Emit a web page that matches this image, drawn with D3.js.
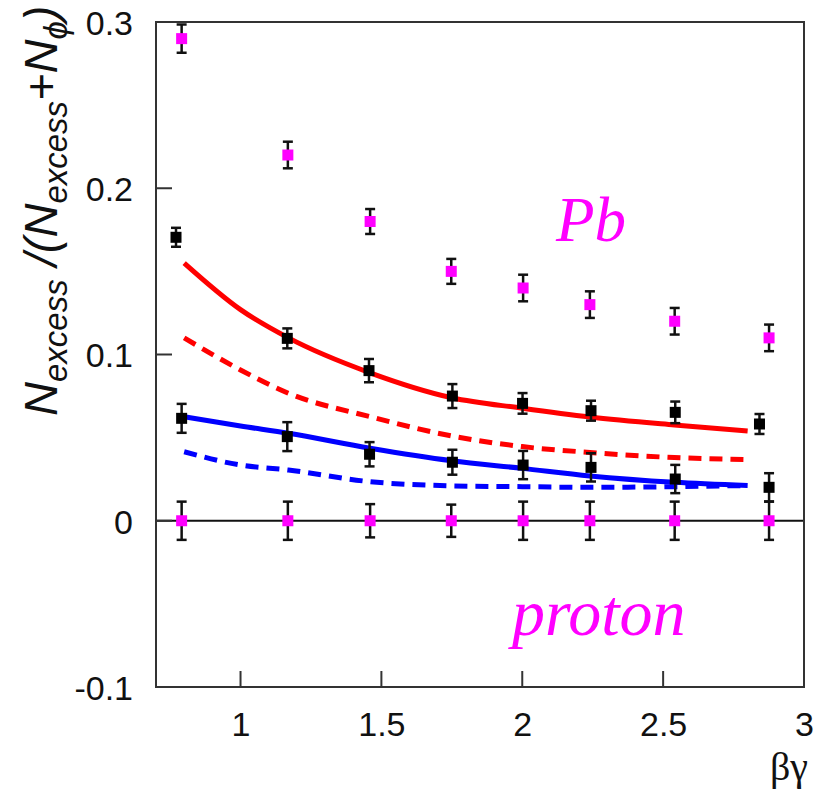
<!DOCTYPE html>
<html>
<head>
<meta charset="utf-8">
<script src="https://cdn.jsdelivr.net/npm/d3@7"></script>
<style>
  html, body { margin: 0; padding: 0; background: #fff; }
  svg { display: block; }
</style>
</head>
<body>
<svg id="chart" width="825" height="792"></svg>
<script>
// ---- data ----
const xTicks = [1, 1.5, 2, 2.5, 3];
const xTickLabels = ["1", "1.5", "2", "2.5", "3"];
const yTicks = [0.3, 0.2, 0.1, 0, -0.1];
const yTickLabels = ["0.3", "0.2", "0.1", "0", "-0.1"];

// magenta points (Pb upper, proton at zero)
const pbMagX   = [0.791, 1.168, 1.460, 1.748, 2.003, 2.240, 2.541, 2.876];
const pbMagY   = [0.290, 0.220, 0.180, 0.150, 0.140, 0.130, 0.120, 0.110];
const pbMagErr = [0.0085, 0.008, 0.0075, 0.0075, 0.008, 0.008, 0.008, 0.008];

const prMagX   = [0.791, 1.168, 1.460, 1.748, 2.003, 2.240, 2.541, 2.876];
const prMagY   = [0, 0, 0, 0, 0, 0, 0, 0];
const prMagErr = [0.0115, 0.0115, 0.010, 0.0097, 0.0115, 0.0115, 0.0115, 0.0115];

// black points (upper set, lower set)
const pbBlkX   = [0.771, 1.166, 1.456, 1.752, 2.001, 2.244, 2.543, 2.842];
const pbBlkY   = [0.1705, 0.1097, 0.0903, 0.075, 0.0706, 0.0662, 0.0652, 0.0582];
const pbBlkErr = [0.0057, 0.006, 0.007, 0.0072, 0.0062, 0.006, 0.0065, 0.006];

const prBlkX   = [0.791, 1.166, 1.458, 1.752, 2.003, 2.244, 2.543, 2.876];
const prBlkY   = [0.0616, 0.0506, 0.040, 0.0352, 0.0335, 0.0321, 0.0251, 0.0201];
const prBlkErr = [0.0087, 0.0087, 0.0073, 0.0075, 0.0085, 0.0085, 0.0085, 0.0085];

// model curves
const curveX       = [0.8, 1.0, 1.17, 1.46, 1.75, 2.0, 2.24, 2.54, 2.8];
const redSolidY    = [0.155, 0.127, 0.110, 0.0890, 0.0740, 0.0677, 0.0624, 0.0576, 0.054];
const redDashedY   = [0.110, 0.0907, 0.0767, 0.0626, 0.0510, 0.0446, 0.0411, 0.0380, 0.0368];
const blueSolidY   = [0.0626, 0.0570, 0.0526, 0.0436, 0.0361, 0.0315, 0.0269, 0.0231, 0.0212];
const blueDashedY  = [0.0415, 0.0335, 0.0305, 0.0235, 0.0210, 0.0205, 0.0201, 0.0205, 0.0212];

// ---- drawing ----
const svg = d3.select("#chart");
const x = d3.scaleLinear().domain([0.7, 3.0]).range([156, 804]);
const y = d3.scaleLinear().domain([-0.1, 0.3]).range([687, 22]);

const frameColor = "#333";

// zero line
svg.append("line")
  .attr("x1", x(0.7)).attr("x2", x(3.0))
  .attr("y1", y(0)).attr("y2", y(0))
  .attr("stroke", "#111").attr("stroke-width", 2);

// curves
const line = d3.line().x(d => x(d[0])).y(d => y(d[1])).curve(d3.curveMonotoneX);
function drawCurve(ys, color, dashed) {
  svg.append("path")
    .datum(curveX.map((v, i) => [v, ys[i]]))
    .attr("d", line)
    .attr("fill", "none")
    .attr("stroke", color)
    .attr("stroke-width", 5)
    .attr("stroke-dasharray", dashed ? "13,8" : null);
}
drawCurve(redSolidY, "#ff0000", false);
drawCurve(redDashedY, "#ff0000", true);
drawCurve(blueDashedY, "#0000ff", true);
drawCurve(blueSolidY, "#0000ff", false);

// points with error bars
function drawPoints(xs, ys, es, color) {
  const g = svg.append("g");
  const data = xs.map((v, i) => ({ x: v, y: ys[i], e: es[i] }));
  const pts = g.selectAll("g").data(data).join("g");
  pts.append("line")
    .attr("x1", d => x(d.x)).attr("x2", d => x(d.x))
    .attr("y1", d => y(d.y + d.e)).attr("y2", d => y(d.y - d.e))
    .attr("stroke", "#111").attr("stroke-width", 2.5);
  pts.append("line")
    .attr("x1", d => x(d.x) - 5).attr("x2", d => x(d.x) + 5)
    .attr("y1", d => y(d.y + d.e)).attr("y2", d => y(d.y + d.e))
    .attr("stroke", "#111").attr("stroke-width", 2.5);
  pts.append("line")
    .attr("x1", d => x(d.x) - 5).attr("x2", d => x(d.x) + 5)
    .attr("y1", d => y(d.y - d.e)).attr("y2", d => y(d.y - d.e))
    .attr("stroke", "#111").attr("stroke-width", 2.5);
  pts.append("rect")
    .attr("x", d => x(d.x) - 5.5).attr("y", d => y(d.y) - 5.5)
    .attr("width", 11).attr("height", 11)
    .attr("fill", color);
}
drawPoints(pbBlkX, pbBlkY, pbBlkErr, "#000");
drawPoints(prBlkX, prBlkY, prBlkErr, "#000");
drawPoints(prMagX, prMagY, prMagErr, "#ff00ff");
drawPoints(pbMagX, pbMagY, pbMagErr, "#ff00ff");

// frame
svg.append("rect")
  .attr("x", x(0.7)).attr("y", y(0.3))
  .attr("width", x(3.0) - x(0.7)).attr("height", y(-0.1) - y(0.3))
  .attr("fill", "none").attr("stroke", frameColor).attr("stroke-width", 2);

// x axis ticks & labels
const xAxis = d3.axisBottom(x).tickValues(xTicks).tickSize(0)
  .tickFormat((d, i) => xTickLabels[i]);
svg.append("g").attr("transform", `translate(0,${y(-0.1)})`).call(xAxis)
  .call(g => g.select(".domain").remove())
  .call(g => g.selectAll("text")
    .attr("font-family", "Liberation Sans, Arial, sans-serif")
    .attr("font-size", 34).attr("fill", "#111").attr("dy", null).attr("y", 49));
svg.append("g").selectAll("line").data(xTicks).join("line")
  .attr("x1", d => x(d)).attr("x2", d => x(d))
  .attr("y1", y(-0.1)).attr("y2", y(-0.1) - 16)
  .attr("stroke", frameColor).attr("stroke-width", 2);

// y axis ticks & labels
const yAxis = d3.axisLeft(y).tickValues(yTicks).tickSize(0)
  .tickFormat((d, i) => yTickLabels[i]);
svg.append("g").attr("transform", `translate(${x(0.7)},0)`).call(yAxis)
  .call(g => g.select(".domain").remove())
  .call(g => g.selectAll("text")
    .attr("font-family", "Liberation Sans, Arial, sans-serif")
    .attr("font-size", 34).attr("fill", "#111").attr("x", -23).attr("dy", "0.36em"));
svg.append("g").selectAll("line").data(yTicks).join("line")
  .attr("x1", x(0.7)).attr("x2", x(0.7) + 16)
  .attr("y1", d => y(d)).attr("y2", d => y(d))
  .attr("stroke", frameColor).attr("stroke-width", 2);

// x axis title
svg.append("text")
  .attr("x", 808).attr("y", 780).attr("text-anchor", "end")
  .attr("font-family", "Liberation Serif, Times New Roman, serif")
  .attr("font-size", 40).attr("fill", "#111")
  .text("βγ");

// y axis title
const yt = svg.append("text")
  .attr("transform", "translate(57,416) rotate(-90)")
  .attr("font-family", "Liberation Sans, Arial, sans-serif")
  .attr("font-style", "italic")
  .attr("fill", "#111")
  .attr("font-size", 47);
yt.append("tspan").text("N");
yt.append("tspan").attr("font-size", 33).attr("dy", 10).text("excess");
yt.append("tspan").attr("dy", -10).text(" /(N");
yt.append("tspan").attr("font-size", 33).attr("dy", 10).text("excess");
yt.append("tspan").attr("dy", -10).text("+N");
yt.append("tspan").attr("font-size", 33).attr("dy", 10).text("ϕ");
yt.append("tspan").attr("dy", -10).text(")");

// annotations
svg.append("text")
  .attr("x", 556).attr("y", 241)
  .attr("font-family", "Liberation Serif, Times New Roman, serif")
  .attr("font-style", "italic").attr("font-size", 63).attr("fill", "#ff00ff")
  .text("Pb");
svg.append("text")
  .attr("x", 512).attr("y", 635)
  .attr("font-family", "Liberation Serif, Times New Roman, serif")
  .attr("font-style", "italic").attr("font-size", 66).attr("fill", "#ff00ff")
  .text("proton");
</script>
</body>
</html>
